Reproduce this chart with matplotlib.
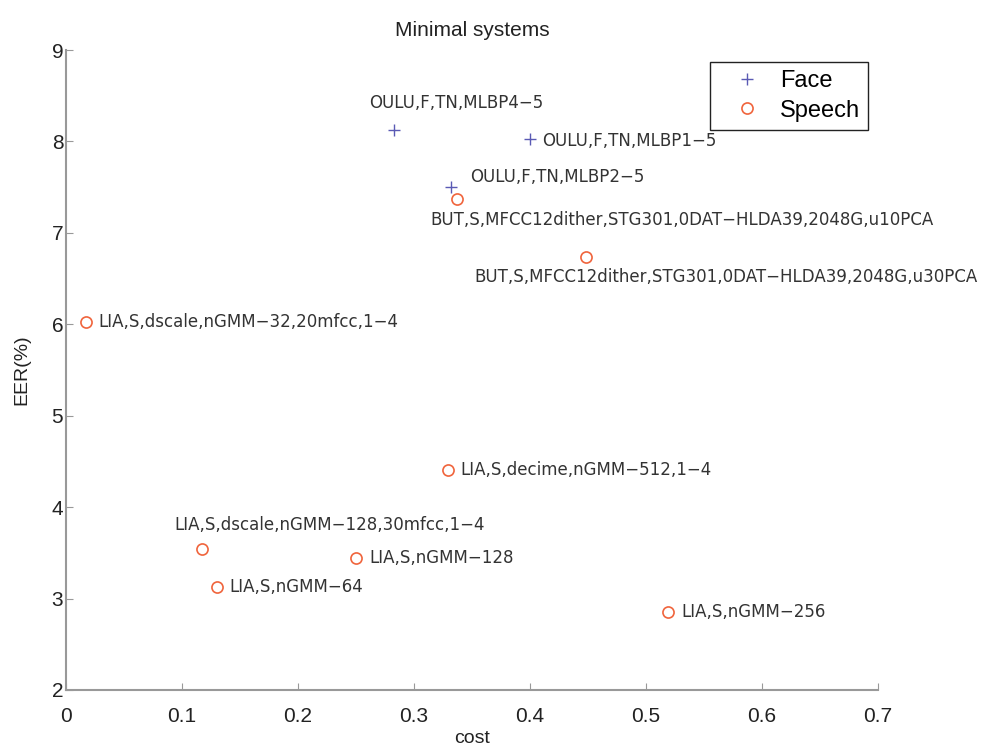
import matplotlib
matplotlib.use("Agg")
import matplotlib.pyplot as plt

plt.rcParams['font.family'] = ['Liberation Sans', 'DejaVu Sans']

# face systems
face_cost = [0.283, 0.400, 0.332]
face_eer = [8.12, 8.03, 7.50]
face_names = ["OULU,F,TN,MLBP4\u22125", "OULU,F,TN,MLBP1\u22125", "OULU,F,TN,MLBP2\u22125"]

# speech systems
speech_cost = [0.337, 0.448, 0.017, 0.329, 0.117, 0.250, 0.130, 0.519]
speech_eer = [7.37, 6.74, 6.03, 4.41, 3.54, 3.44, 3.13, 2.85]
speech_names = [
    "BUT,S,MFCC12dither,STG301,0DAT\u2212HLDA39,2048G,u10PCA",
    "BUT,S,MFCC12dither,STG301,0DAT\u2212HLDA39,2048G,u30PCA",
    "LIA,S,dscale,nGMM\u221232,20mfcc,1\u22124",
    "LIA,S,decime,nGMM\u2212512,1\u22124",
    "LIA,S,dscale,nGMM\u2212128,30mfcc,1\u22124",
    "LIA,S,nGMM\u2212128",
    "LIA,S,nGMM\u221264",
    "LIA,S,nGMM\u2212256",
]

# label offsets in pixels (dx right, dy down)
face_off = [(-25, -27), (12, 2), (19, -10)]
speech_off = [(-27, 21), (-111, 20), (13, 0), (13, 0), (-27, -24), (13, 0), (13, 0), (13, 0)]

face_col = '#5a5ab4'
speech_col = '#f0643c'
lab_font = 'DejaVu Sans'

fig = plt.figure(figsize=(9.87, 7.49), dpi=100)
ax = fig.add_axes([0.0669, 0.0788, 0.8227, 0.8544])

ax.plot(face_cost, face_eer, '+', color=face_col, markersize=8, markeredgewidth=1.0, label='Face')
ax.plot(speech_cost, speech_eer, 'o', color=speech_col, markerfacecolor='none',
        markersize=8, markeredgewidth=1.2, label='Speech')

px = 0.72  # points per pixel
for x, y, s, (dx, dy) in zip(face_cost, face_eer, face_names, face_off):
    ax.annotate(s, (x, y), xytext=(dx * px, -dy * px), textcoords='offset points',
                ha='left', va='center', fontsize=12, family=lab_font,
                color='#333333', annotation_clip=False)
for x, y, s, (dx, dy) in zip(speech_cost, speech_eer, speech_names, speech_off):
    ax.annotate(s, (x, y), xytext=(dx * px, -dy * px), textcoords='offset points',
                ha='left', va='center', fontsize=12, family=lab_font,
                color='#333333', annotation_clip=False)

ax.set_xlim(0, 0.7)
ax.set_ylim(2, 9)
ax.set_xticks([0, 0.1, 0.2, 0.3, 0.4, 0.5, 0.6, 0.7])
ax.set_xticklabels(['0', '0.1', '0.2', '0.3', '0.4', '0.5', '0.6', '0.7'])
ax.set_yticks(range(2, 10))

for side in ['top', 'right']:
    ax.spines[side].set_visible(False)
for side in ['left', 'bottom']:
    ax.spines[side].set_color('#999999')
    ax.spines[side].set_linewidth(1.5)
ax.tick_params(direction='in', length=5, color='#999999', labelsize=15, labelcolor='#222222')
ax.tick_params(axis='x', pad=12)
ax.tick_params(axis='y', pad=2)

ax.set_xlabel('cost', fontsize=14, labelpad=3, color='#222222')
ax.set_ylabel('EER(%)', fontsize=14, labelpad=15, color='#222222')
ax.set_title('Minimal systems', fontsize=15, pad=10, color='#222222')

leg = ax.legend(loc='upper right', bbox_to_anchor=(0.988, 0.981), fontsize=17, fancybox=False,
                framealpha=1, edgecolor='#222222', handlelength=2.4, handletextpad=0.2,
                borderpad=0.35, labelspacing=0.3, borderaxespad=0)
leg.get_frame().set_linewidth(1.0)

fig.savefig('out.png', dpi=100)
